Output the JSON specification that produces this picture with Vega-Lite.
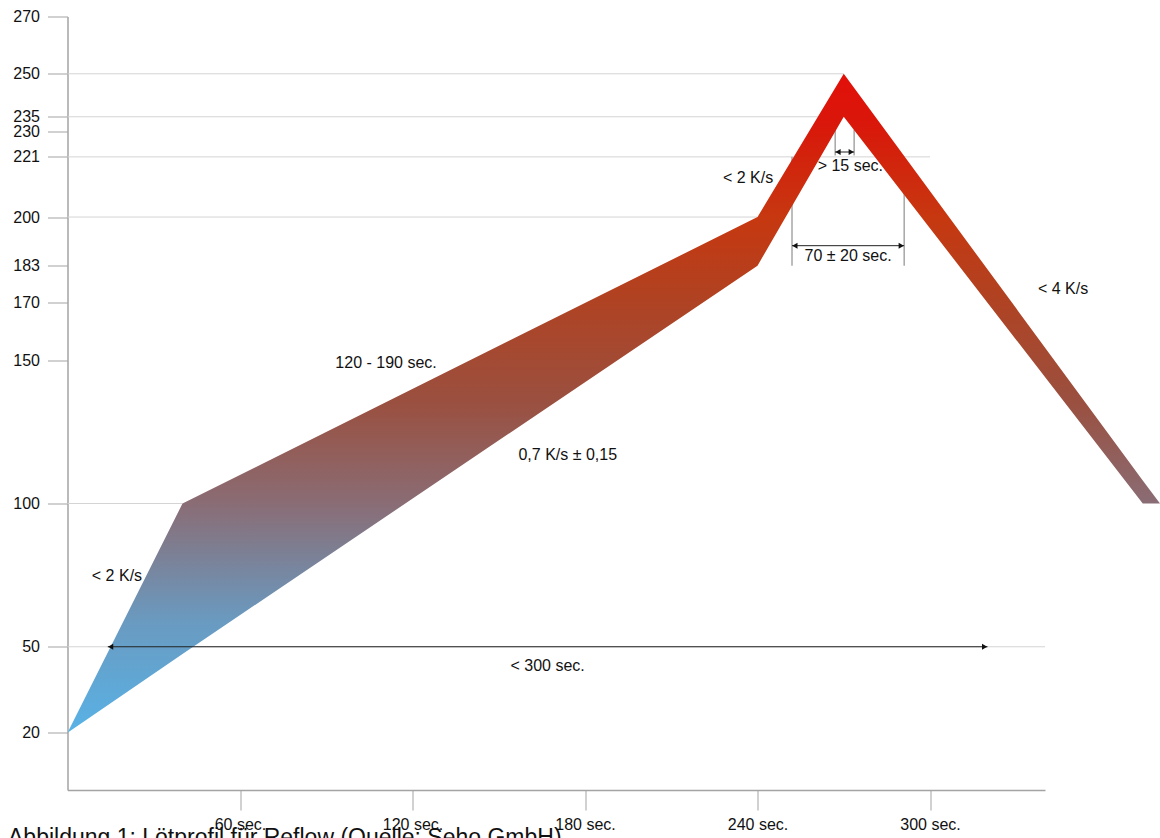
{
  "$schema": "https://vega.github.io/schema/vega-lite/v6.json",
  "width": 977.5,
  "height": 773.5,
  "autosize": {"type": "none"},
  "padding": {"left": 67.5, "top": 16.5, "right": 115, "bottom": 48},
  "background": "white",
  "config": {
    "view": {"stroke": null},
    "font": "Liberation Sans",
    "axis": {
      "grid": false,
      "title": null,
      "domainColor": "#a3a3a3",
      "domainWidth": 1.5,
      "tickColor": "#a3a3a3",
      "tickWidth": 1,
      "tickSize": 20,
      "labelFont": "Liberation Sans",
      "labelColor": "#111111",
      "labelOverlap": false
    }
  },
  "title": {
    "text": "Abbildung 1: Lötprofil für Reflow (Quelle: Seho GmbH)",
    "orient": "bottom",
    "anchor": "start",
    "frame": "group",
    "dx": -59.5,
    "offset": -5,
    "fontSize": 23,
    "fontWeight": "normal",
    "font": "Liberation Sans",
    "color": "#111111"
  },
  "datasets": {
    "grid": [
      {"v": 250, "a": 0, "b": 270},
      {"v": 235, "a": 0, "b": 270},
      {"v": 221, "a": 0, "b": 300},
      {"v": 200, "a": 0, "b": 240},
      {"v": 100, "a": 0, "b": 40},
      {"v": 50, "a": 0, "b": 340}
    ],
    "band": [
      {"t": 0, "hi": 20, "lo": 20},
      {"t": 40, "hi": 100, "lo": 47.5},
      {"t": 240, "hi": 200, "lo": 183},
      {"t": 270, "hi": 250, "lo": 235},
      {"t": 374, "hi": 108, "lo": 100},
      {"t": 380, "hi": 100, "lo": 100}
    ],
    "guides": [
      {"x": 252, "x2": 252, "y": 183, "y2": 221},
      {"x": 291, "x2": 291, "y": 183, "y2": 221},
      {"x": 267, "x2": 267, "y": 221.5, "y2": 230.5},
      {"x": 273.6, "x2": 273.6, "y": 221.5, "y2": 230.5}
    ],
    "spans": [
      {"x": 14, "x2": 320, "y": 50},
      {"x": 252, "x2": 291, "y": 190},
      {"x": 267, "x2": 273.6, "y": 222.7}
    ],
    "heads": [
      {"x": 15, "y": 50, "s": "triangle-left"},
      {"x": 319, "y": 50, "s": "triangle-right"},
      {"x": 253, "y": 190, "s": "triangle-left"},
      {"x": 290, "y": 190, "s": "triangle-right"},
      {"x": 268, "y": 222.7, "s": "triangle-left"},
      {"x": 272.6, "y": 222.7, "s": "triangle-right"}
    ],
    "notes": [
      {"x": 17.2, "y": 74.7, "t": "< 2 K/s"},
      {"x": 110.8, "y": 149, "t": "120 - 190 sec."},
      {"x": 174, "y": 117, "t": "0,7 K/s ± 0,15"},
      {"x": 236.7, "y": 213.6, "t": "< 2 K/s"},
      {"x": 272.3, "y": 217.8, "t": "> 15 sec."},
      {"x": 271.5, "y": 186.3, "t": "70 ± 20 sec."},
      {"x": 346.3, "y": 174.9, "t": "< 4 K/s"},
      {"x": 167, "y": 43.3, "t": "< 300 sec."}
    ]
  },
  "layer": [
    {
      "data": {"name": "grid"},
      "mark": {"type": "rule", "color": "#d4d4d4", "strokeWidth": 1},
      "encoding": {
        "x": {
          "field": "a", "type": "quantitative",
          "scale": {"domain": [0, 340], "nice": false, "zero": false},
          "axis": {"values": [60, 120, 180, 240, 300], "labelExpr": "datum.value + ' sec.'", "labelFontSize": 16, "labelPadding": 6}
        },
        "x2": {"field": "b"},
        "y": {
          "field": "v", "type": "quantitative",
          "scale": {"domain": [0, 270], "nice": false, "zero": false},
          "axis": {"values": [20, 50, 100, 150, 170, 183, 200, 221, 230, 235, 250, 270], "labelFontSize": 16, "labelPadding": 8}
        }
      }
    },
    {
      "data": {"name": "guides"},
      "mark": {"type": "rule", "color": "#7a7a7a", "strokeWidth": 1},
      "encoding": {
        "x": {"field": "x", "type": "quantitative", "scale": {"domain": [0, 340], "nice": false, "zero": false}},
        "x2": {"field": "x2"},
        "y": {"field": "y", "type": "quantitative", "scale": {"domain": [0, 270], "nice": false, "zero": false}},
        "y2": {"field": "y2"}
      }
    },
    {
      "data": {"name": "band"},
      "mark": {
        "type": "area",
        "orient": "vertical",
        "fill": {
          "gradient": "linear",
          "x1": 0, "y1": 1, "x2": 0, "y2": 0,
          "stops": [
            {"offset": 0, "color": "#58b2e6"},
            {"offset": 0.17, "color": "#6a9ac0"},
            {"offset": 0.35, "color": "#8a6c74"},
            {"offset": 0.5, "color": "#9a5040"},
            {"offset": 0.66, "color": "#b04222"},
            {"offset": 0.78, "color": "#c63810"},
            {"offset": 0.93, "color": "#da160a"},
            {"offset": 1, "color": "#e2100a"}
          ]
        }
      },
      "encoding": {
        "x": {"field": "t", "type": "quantitative", "scale": {"domain": [0, 340], "nice": false, "zero": false}},
        "y": {"field": "hi", "type": "quantitative", "scale": {"domain": [0, 270], "nice": false, "zero": false}},
        "y2": {"field": "lo"}
      }
    },
    {
      "data": {"name": "spans"},
      "mark": {"type": "rule", "color": "#222222", "strokeWidth": 1},
      "encoding": {
        "x": {"field": "x", "type": "quantitative", "scale": {"domain": [0, 340], "nice": false, "zero": false}},
        "x2": {"field": "x2"},
        "y": {"field": "y", "type": "quantitative", "scale": {"domain": [0, 270], "nice": false, "zero": false}}
      }
    },
    {
      "data": {"name": "heads"},
      "mark": {"type": "point", "filled": true, "color": "#111111", "opacity": 1, "size": 36},
      "encoding": {
        "x": {"field": "x", "type": "quantitative", "scale": {"domain": [0, 340], "nice": false, "zero": false}},
        "y": {"field": "y", "type": "quantitative", "scale": {"domain": [0, 270], "nice": false, "zero": false}},
        "shape": {"field": "s", "type": "nominal", "scale": null}
      }
    },
    {
      "data": {"name": "notes"},
      "mark": {"type": "text", "fontSize": 16, "color": "#111111", "align": "center", "baseline": "middle", "font": "Liberation Sans"},
      "encoding": {
        "x": {"field": "x", "type": "quantitative", "scale": {"domain": [0, 340], "nice": false, "zero": false}},
        "y": {"field": "y", "type": "quantitative", "scale": {"domain": [0, 270], "nice": false, "zero": false}},
        "text": {"field": "t"}
      }
    }
  ]
}
